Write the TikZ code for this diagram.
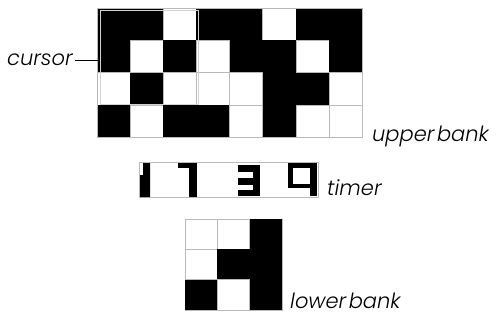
\documentclass[tikz,border=0pt]{standalone}
\usepackage{fontspec}
\newfontfamily\labfont{Poppins}[UprightFont={* Light Italic}]
\begin{document}
\begin{tikzpicture}[x=1pt,y=-1pt,
  cell1/.style={fill=black},
  cell0/.style={fill=white,draw=gray!55,line width=0.4pt},
  lab/.style={font=\labfont\fontsize{21}{24}\selectfont,inner sep=0pt,anchor=base west},
  frame/.style={draw=gray!55,line width=0.5pt,inner sep=0pt,anchor=north west},
  cursorbox/.style={draw=gray!35,line width=1pt,inner sep=0pt,anchor=north west},
  digit/.style={fill=black},
  hole/.style={fill=white},
  leader/.style={draw=black,line width=0.6pt}]
\useasboundingbox (0,0) rectangle (499,324);
% upper bank
\node[frame,minimum width=265,minimum height=129] (upper) at (97,8) {};
\foreach \row [count=\r from 0] in {{1,1,0,1,1,0,1,1},{1,0,1,0,1,1,0,1},{0,1,0,0,0,1,1,0},{1,0,1,1,0,1,0,0}}
  \foreach \v [count=\c from 0] in \row
    \path[cell\v] ({97+\c*33.125},{8+\r*32.25}) rectangle ++(33.125,32.25);
\node[frame,minimum width=265,minimum height=129] at (97,8) {};
% cursor
\node[cursorbox,minimum width=98,minimum height=94] (curbox) at (100,9.5) {};
\node[lab] (cursorlab) at (7,65) {cursor};
\coordinate (cstart) at ([xshift=2pt,yshift=-1pt]cursorlab.east);
\draw[leader] (cstart) -- (curbox.west |- cstart);
\node[lab] (upperlab) at (372,141) {upper\hspace{0.12em}bank};
% timer
\node[frame,minimum width=179,minimum height=35] (timer) at (139,162) {};
\fill[digit] (143,163) -- (150,163) -- (150,197) -- (140,197) -- (140,175) -- (143,175) -- cycle;
\fill[digit] (178,163) rectangle (197,168);
\fill[digit] (189,163) rectangle (197,197);
\fill[digit] (238,165) rectangle (260,196);
\fill[hole] (238,172) rectangle (253,178);
\fill[hole] (238,185) rectangle (253,190);
\fill[digit] (288,163) rectangle (317,196);
\fill[hole] (293,168) rectangle (310,184);
\fill[hole] (288,188) rectangle (310,196);
\node[lab] (timerlab) at (327,195) {timer};
% lower bank
\node[frame,minimum width=97,minimum height=91] (lower) at (185,219) {};
\foreach \row [count=\r from 0] in {{0,0,1},{0,1,1},{1,0,1}}
  \foreach \v [count=\c from 0] in \row
    \path[cell\v] ({185+\c*32.33},{219+\r*30.33}) rectangle ++(32.33,30.33);
\node[lab] (lowerlab) at (290,308) {lower\hspace{0.12em}bank};
\end{tikzpicture}
\end{document}
